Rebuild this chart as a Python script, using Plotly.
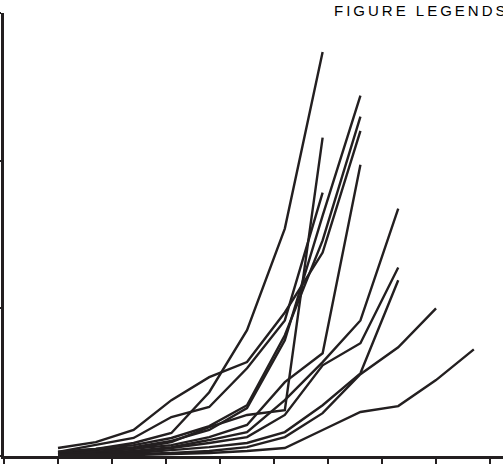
import plotly.graph_objects as go

days = [10, 17, 24, 31, 38, 45, 52, 59, 66, 73, 80, 87]

tumor_a = [14, 24, 44, 78, 216, 426, 770, 1368]
tumor_b = [10, 20, 30, 51, 88, 162, 392, 814, 1220]
tumor_c = [14, 24, 37, 61, 101, 172, 409, 730, 1149]
tumor_d = [27, 47, 88, 189, 267, 318, 486, 689, 1101]
tumor_e = [7, 14, 24, 47, 98, 139, 155, 1078]
tumor_f = [7, 14, 24, 37, 64, 105, 250, 348, 986]
tumor_g = [14, 37, 61, 132, 166, 297, 459, 892]
tumor_h = [7, 10, 17, 30, 54, 81, 189, 318, 459, 838]
tumor_i = [3, 7, 14, 27, 44, 64, 139, 307, 382, 638]
tumor_j = [3, 7, 10, 20, 30, 44, 81, 172, 280, 595]
tumor_k = [3, 3, 7, 10, 17, 30, 64, 145, 277, 368, 500]
tumor_l = [3, 3, 3, 7, 10, 17, 27, 88, 149, 169, 257, 361]

series = [tumor_a, tumor_b, tumor_c, tumor_d, tumor_e, tumor_f,
          tumor_g, tumor_h, tumor_i, tumor_j, tumor_k, tumor_l]

x_ticks = [0, 10, 20, 30, 40, 50, 60, 70, 80, 90]
y_ticks = [0, 500, 1000, 1500]

INK = "#231f20"

fig = go.Figure()
for s in series:
    fig.add_trace(go.Scatter(
        x=days[:len(s)], y=s, mode="lines",
        line=dict(color=INK, width=2.4),
        showlegend=False, hoverinfo="skip", cliponaxis=False,
    ))

fig.update_layout(
    width=503, height=465,
    margin=dict(l=4, r=0, t=13, b=9, pad=0),
    paper_bgcolor="white", plot_bgcolor="white",
    showlegend=False,
    font=dict(family="Arial, Liberation Sans, sans-serif", color=INK),
)
fig.update_xaxes(
    range=[0, 92.4], showgrid=False, zeroline=False,
    showline=True, linecolor=INK, linewidth=2.5,
    ticks="outside", ticklen=5, tickwidth=2, tickcolor=INK,
    tickvals=x_ticks, showticklabels=False,
)
fig.update_yaxes(
    range=[0, 1500], showgrid=False, zeroline=False,
    showline=True, linecolor=INK, linewidth=2.5,
    ticks="outside", ticklen=4, tickwidth=2, tickcolor=INK,
    tickvals=y_ticks, showticklabels=False,
)

fig.add_annotation(
    text='<span style="letter-spacing:3px">FIGURE LEGENDS</span>',
    xref="paper", yref="paper",
    x=(332 - 4) / 499, y=1.0 + 3 / 443,
    xanchor="left", yanchor="middle",
    showarrow=False,
    font=dict(size=15, color="#000000", family="Arial, Liberation Sans, sans-serif"),
)

fig.write_html("out.html")
